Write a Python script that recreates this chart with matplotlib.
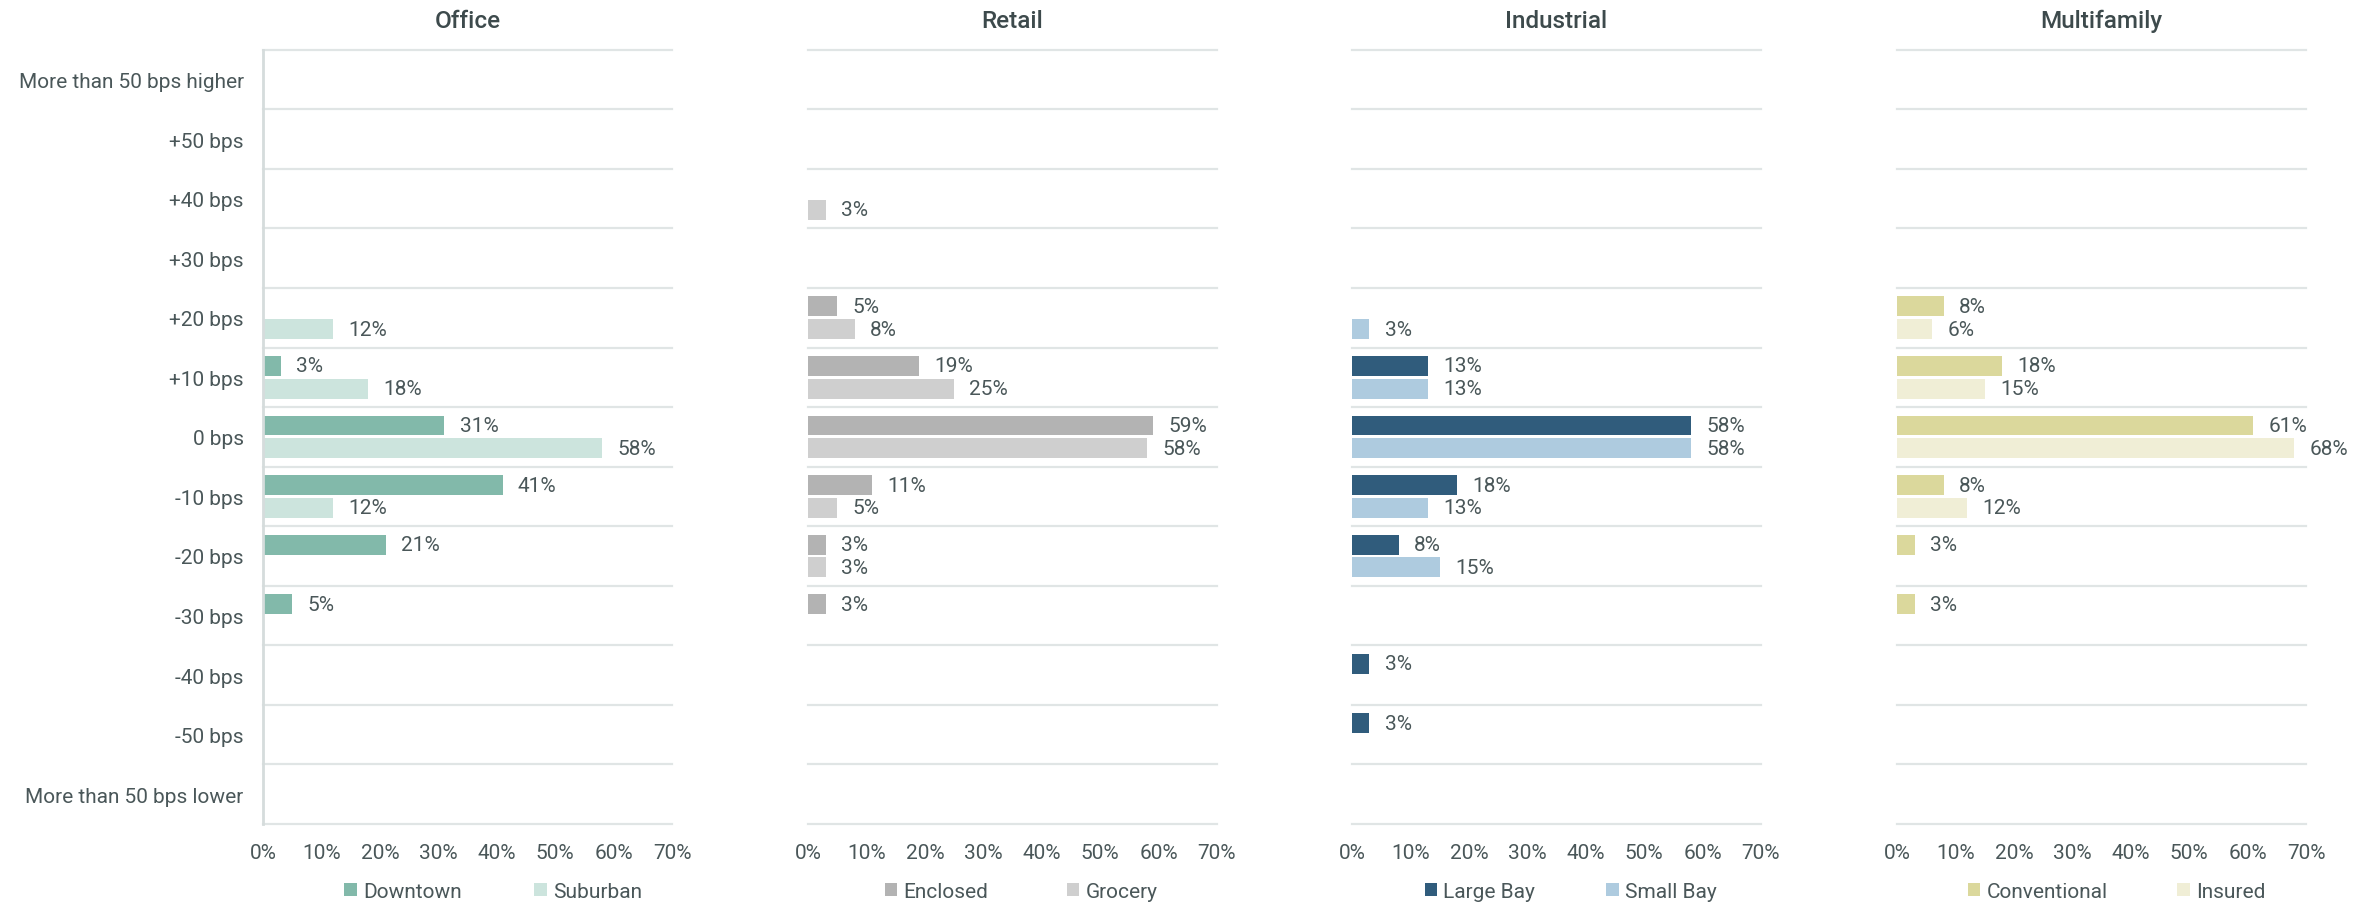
# Spread change expectations by property type: grouped horizontal bars
import numpy as np
import matplotlib.pyplot as plt
from matplotlib.patches import Patch

plt.rcParams["font.family"] = ["Roboto", "DejaVu Sans"]

categories = [
    "More than 50 bps higher", "+50 bps", "+40 bps", "+30 bps", "+20 bps",
    "+10 bps", "0 bps", "-10 bps", "-20 bps", "-30 bps", "-40 bps",
    "-50 bps", "More than 50 bps lower",
]

office_downtown = [0, 0, 0, 0, 0, 3, 31, 41, 21, 5, 0, 0, 0]
office_suburban = [0, 0, 0, 0, 12, 18, 58, 12, 0, 0, 0, 0, 0]
retail_enclosed = [0, 0, 0, 0, 5, 19, 59, 11, 3, 3, 0, 0, 0]
retail_grocery = [0, 0, 3, 0, 8, 25, 58, 5, 3, 0, 0, 0, 0]
industrial_large = [0, 0, 0, 0, 0, 13, 58, 18, 8, 0, 3, 3, 0]
industrial_small = [0, 0, 0, 0, 3, 13, 58, 13, 15, 0, 0, 0, 0]
multi_conventional = [0, 0, 0, 0, 8, 18, 61, 8, 3, 3, 0, 0, 0]
multi_insured = [0, 0, 0, 0, 6, 15, 68, 12, 0, 0, 0, 0, 0]

xticks = [0, 10, 20, 30, 40, 50, 60, 70]

panels = [
    ("Office", office_downtown, office_suburban, ("Downtown", "Suburban"),
     ("#82b9aa", "#cce4dd")),
    ("Retail", retail_enclosed, retail_grocery, ("Enclosed", "Grocery"),
     ("#b3b3b3", "#cfcfcf")),
    ("Industrial", industrial_large, industrial_small, ("Large Bay", "Small Bay"),
     ("#305c7c", "#aecbdf")),
    ("Multifamily", multi_conventional, multi_insured, ("Conventional", "Insured"),
     ("#dbd89c", "#f0eed6")),
]

TEXT = "#4a5759"
TITLE = "#3d4a4c"
GRID = "#e0e5e5"
FS = 15

fig = plt.figure(figsize=(23.64, 9.04), dpi=100)
lefts = [0.1113, 0.3418, 0.5719, 0.8025]
width = 0.1730
bottom, height = 0.0874, 0.8565

# legend placement per panel: (anchor x, column spacing)
legend_pos = [
    (0.562, 3.48),
    (0.521, 3.77),
    (0.535, 3.41),
    (0.537, 3.34),
]

y = np.arange(len(categories))
bar_h = 0.333
off = 0.19

for i, (title, first, second, names, colors) in enumerate(panels):
    ax = fig.add_axes([lefts[i], bottom, width, height])

    for vals, shift, color in ((first, -off, colors[0]), (second, off, colors[1])):
        vals = np.array(vals)
        bars = ax.barh(y + shift, vals, height=bar_h, color=color, zorder=2)
        labels = [f"{v}%" if v > 0 else "" for v in vals]
        ax.bar_label(bars, labels=labels, padding=11, fontsize=FS, color=TEXT)

    # band separators
    for b in np.arange(-0.5, len(categories)):
        ax.axhline(b, color=GRID, lw=1.6, clip_on=False, zorder=0)

    ax.set_xlim(0, 70)
    ax.set_ylim(len(categories) - 0.5, -0.5)
    ax.set_xticks(xticks)
    ax.set_xticklabels([f"{t}%" for t in xticks])
    ax.tick_params(axis="x", length=0, pad=14, labelsize=FS, labelcolor=TEXT)

    for s in ax.spines.values():
        s.set_visible(False)

    if i == 0:
        ax.set_yticks(y)
        ax.set_yticklabels(categories)
        ax.tick_params(axis="y", length=0, pad=14, labelsize=FS, labelcolor=TEXT)
        ax.spines["left"].set_visible(True)
        ax.spines["left"].set_color("#d5dcdc")
        ax.spines["left"].set_linewidth(2)
    else:
        ax.set_yticks([])

    ax.set_title(title, fontsize=17.5, fontweight="medium", color=TITLE, pad=16)

    lx, cs = legend_pos[i]
    handles = [Patch(facecolor=c, edgecolor="none") for c in colors]
    ax.legend(handles, names, loc="center", bbox_to_anchor=(lx, -0.087),
              ncol=2, frameon=False, fontsize=FS, labelcolor=TEXT,
              handlelength=0.6, handleheight=0.6, handletextpad=0.3,
              columnspacing=cs)

fig.savefig("out.png", dpi=100)
